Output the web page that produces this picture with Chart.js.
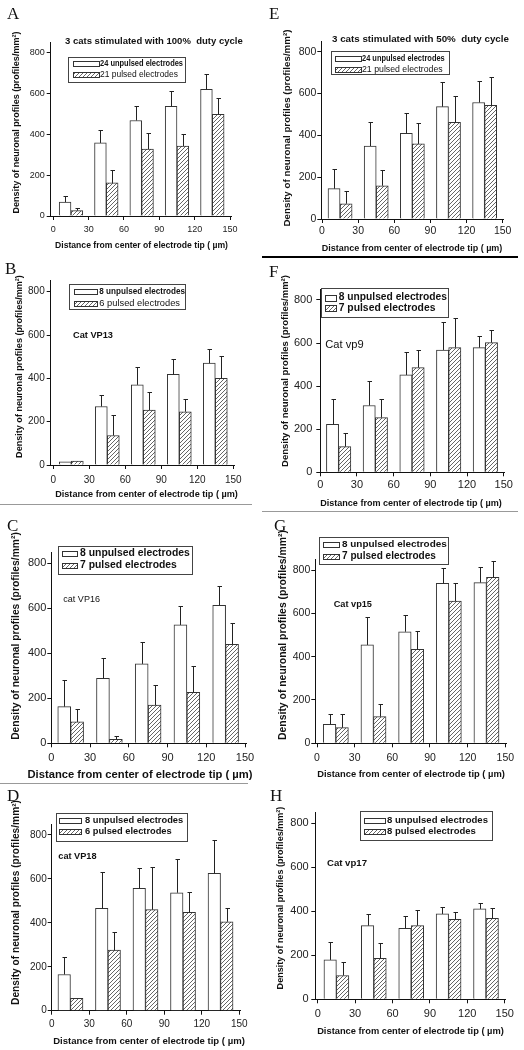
<!DOCTYPE html>
<html><head><meta charset="utf-8">
<script src="https://cdn.jsdelivr.net/npm/chart.js@4.4.1/dist/chart.umd.min.js"></script>
<style>
html,body{margin:0;padding:0;background:#fff;}
#fig{position:relative;width:524px;height:1050px;overflow:hidden;background:#fff;}
#fig canvas{position:absolute;}
.sep{position:absolute;}
</style></head><body><div id="fig"></div>
<script>
// ---------------- data ----------------
const binCenters = [15, 45, 75, 105, 135];
const xTickValues = [0, 30, 60, 90, 120, 150];
const yTickValues = [0, 200, 400, 600, 800];

const xAxisTitle = 'Distance from center of electrode tip ( µm)';
const yAxisTitle = 'Density of neuronal profiles (profiles/mm²)';

// A
const unpulsedA = [68, 358, 468, 537, 620];
const unpulsedErrA = [30, 62, 72, 73, 78];
const pulsedA = [26, 162, 328, 343, 498];
const pulsedErrA = [12, 62, 78, 60, 82];
const legendA = ['24 unpulsed electrodes', '21 pulsed electrodes'];
const titleA = '3 cats stimulated with 100%  duty cycle';
// E
const unpulsedE = [145, 349, 410, 537, 557];
const unpulsedErrE = [93, 113, 95, 120, 103];
const pulsedE = [73, 159, 359, 462, 543];
const pulsedErrE = [60, 75, 101, 128, 137];
const legendE = ['24 unpulsed electrodes', '21 pulsed electrodes'];
const titleE = '3 cats stimulated with 50%  duty cycle';
// B
const unpulsedB = [15, 270, 370, 418, 470];
const unpulsedErrB = [0, 54, 84, 70, 65];
const pulsedB = [18, 136, 254, 246, 400];
const pulsedErrB = [0, 95, 84, 59, 103];
const legendB = ['8 unpulsed electrodes', '6 pulsed electrodes'];
const catB = 'Cat VP13';
// F
const unpulsedF = [223, 310, 452, 568, 579];
const unpulsedErrF = [117, 116, 108, 132, 54];
const pulsedF = [119, 254, 486, 579, 602];
const pulsedErrF = [62, 85, 82, 136, 59];
const legendF = ['8 unpulsed electrodes', '7 pulsed electrodes'];
const catF = 'Cat vp9';
// C
const unpulsedC = [163, 289, 353, 526, 613];
const unpulsedErrC = [118, 89, 96, 86, 88];
const pulsedC = [95, 18, 170, 227, 440];
const pulsedErrC = [56, 15, 89, 117, 96];
const legendC = ['8 unpulsed electrodes', '7 pulsed electrodes'];
const catC = 'cat VP16';
// G
const unpulsedG = [88, 454, 515, 738, 742];
const unpulsedErrG = [46, 128, 76, 70, 70];
const pulsedG = [72, 123, 434, 657, 766];
const pulsedErrG = [63, 57, 83, 81, 76];
const legendG = ['8 unpulsed electrodes', '7 pulsed electrodes'];
const catG = 'Cat vp15';
// D
const unpulsedD = [165, 466, 557, 537, 625];
const unpulsedErrD = [79, 164, 91, 152, 152];
const pulsedD = [56, 276, 460, 448, 405];
const pulsedErrD = [0, 84, 196, 91, 61];
const legendD = ['8 unpulsed electrodes', '6 pulsed electrodes'];
const catD = 'cat VP18';
// H
const unpulsedH = [179, 335, 323, 388, 411];
const unpulsedErrH = [80, 51, 57, 30, 25];
const pulsedH = [108, 186, 335, 364, 368];
const pulsedErrH = [63, 69, 71, 31, 46];
const legendH = ['8 unpulsed electrodes', '8 pulsed electrodes'];
const catH = 'Cat vp17';

// ---------------- layout (page pixel coordinates) ----------------
const Y_MAX = 850, X_MAX = 151, HALF_BAR = 5;
const Y_AXIS_W = 40, X_AXIS_H = 36;
const SANS = "'Liberation Sans', Arial, sans-serif";
const SERIF = "'Liberation Serif', 'Times New Roman', serif";

const layouts = {
  A: {canvas:[0,0,262,255], ax:50.7, x0:53.3, x150:230, y0:216, y800:52.7, tick:9, xPad:4.6, yPad:2,
      letter:[7,19], title:{x:65,y:41.7,w:178},
      legend:{box:[68.3,56.7,116.7,25], swX:73, swW:26, swH:5, rows:[63.3,74], textX:100, widths:[83,78], weights:['bold','normal'], sizes:[9,9.5]},
      yTitle:{cx:17,cy:122.5,w:182}, xTitle:{cx:141.5,cy:246,w:173}},
  E: {canvas:[262,0,262,255], ax:321.3, x0:322, x150:502.7, y0:219, y800:51.7, tick:10.5, xPad:1.5, yPad:1,
      letter:[269,18.5], title:{x:332,y:39.5,w:177},
      legend:{box:[331,50.7,117.7,23.3], swX:334.7, swW:25.6, swH:5, rows:[58.3,69.3], textX:362, widths:[82.7,80.7], weights:['bold','normal'], sizes:[8.7,9.5]},
      yTitle:{cx:287,cy:128,w:197}, xTitle:{cx:412,cy:249,w:181}},
  B: {canvas:[0,255,262,250], ax:50.7, x0:53.3, x150:233.3, y0:465, y800:291.7, tick:10, xPad:5, yPad:2,
      letter:[5,274], cat:{x:73,y:335,w:40,weight:'bold'},
      legend:{box:[69.3,284.3,116.4,24.7], swX:74, swW:23, swH:5, rows:[291.7,303.3], textX:99.3, widths:[85.7,80.7], weights:['bold','normal'], sizes:[9.5,9.8]},
      yTitle:{cx:19,cy:366.5,w:183}, xTitle:{cx:146.5,cy:494.3,w:183}},
  F: {canvas:[262,258,262,252], ax:320.3, x0:320.3, x150:503.7, y0:472.3, y800:300, tick:11, xPad:2.1, yPad:4,
      letter:[269,276.5], cat:{x:325.3,y:345,w:38.4,weight:'normal'},
      legend:{box:[321,287.7,126.7,29], swX:325.3, swW:10.7, swH:5.5, rows:[297.3,307.7], textX:338.7, widths:[108.3,96.7], weights:['bold','bold']},
      yTitle:{cx:285.3,cy:371,w:192}, xTitle:{cx:411,cy:503.3,w:182}},
  C: {canvas:[0,506,262,276], ax:51.3, x0:51.3, x150:245, y0:743.3, y800:563.3, tick:11, xPad:4.4, yPad:1,
      letter:[7,531], cat:{x:63.3,y:599.3,w:36.7,weight:'normal'},
      legend:{box:[58.3,546,134.4,28], swX:62.3, swW:15.4, swH:5, rows:[553.3,565], textX:80, widths:[110,97], weights:['bold','bold']},
      yTitle:{cx:16,cy:636,w:208}, xTitle:{cx:140,cy:775,w:225}},
  G: {canvas:[262,512,262,271], ax:315.3, x0:317, x150:505.3, y0:743.3, y800:570, tick:10.5, xPad:4.7, yPad:1,
      letter:[274,531], cat:{x:333.7,y:604.3,w:38.3,weight:'bold'},
      legend:{box:[319.3,536.7,129.4,27.3], swX:323, swW:16.3, swH:5, rows:[544.3,556], textX:342, widths:[105,94], weights:['bold','bold']},
      yTitle:{cx:282.7,cy:635,w:210}, xTitle:{cx:411,cy:774.3,w:188}},
  D: {canvas:[0,785,262,265], ax:51.7, x0:51.7, x150:239.3, y0:1010.7, y800:835, tick:10, xPad:3.6, yPad:1,
      letter:[7,800.5], cat:{x:58.3,y:856.7,w:38.3,weight:'bold'},
      legend:{box:[56,813.3,130.7,27.7], swX:59.3, swW:21.7, swH:5, rows:[820.7,831.7], textX:85, widths:[98.3,86.7], weights:['bold','bold']},
      yTitle:{cx:16.7,cy:902.5,w:205}, xTitle:{cx:149,cy:1041,w:192}},
  H: {canvas:[262,785,262,265], ax:315.3, x0:317.7, x150:504.7, y0:999.3, y800:823.3, tick:11, xPad:4.4, yPad:2.6,
      letter:[270,800.5], cat:{x:327,y:863.3,w:40,weight:'bold'},
      legend:{box:[360.3,811,131.7,29], swX:363.7, swW:21, swH:5, rows:[820,831.7], textX:387, widths:[101,89], weights:['bold','bold']},
      yTitle:{cx:280.3,cy:898,w:183}, xTitle:{cx:410.5,cy:1031,w:187}}
};

const panels = [
  {id:'A', unpulsed:unpulsedA, unpulsedErr:unpulsedErrA, pulsed:pulsedA, pulsedErr:pulsedErrA, legend:legendA, title:titleA},
  {id:'E', unpulsed:unpulsedE, unpulsedErr:unpulsedErrE, pulsed:pulsedE, pulsedErr:pulsedErrE, legend:legendE, title:titleE},
  {id:'B', unpulsed:unpulsedB, unpulsedErr:unpulsedErrB, pulsed:pulsedB, pulsedErr:pulsedErrB, legend:legendB, cat:catB},
  {id:'F', unpulsed:unpulsedF, unpulsedErr:unpulsedErrF, pulsed:pulsedF, pulsedErr:pulsedErrF, legend:legendF, cat:catF},
  {id:'C', unpulsed:unpulsedC, unpulsedErr:unpulsedErrC, pulsed:pulsedC, pulsedErr:pulsedErrC, legend:legendC, cat:catC},
  {id:'G', unpulsed:unpulsedG, unpulsedErr:unpulsedErrG, pulsed:pulsedG, pulsedErr:pulsedErrG, legend:legendG, cat:catG},
  {id:'D', unpulsed:unpulsedD, unpulsedErr:unpulsedErrD, pulsed:pulsedD, pulsedErr:pulsedErrD, legend:legendD, cat:catD},
  {id:'H', unpulsed:unpulsedH, unpulsedErr:unpulsedErrH, pulsed:pulsedH, pulsedErr:pulsedErrH, legend:legendH, cat:catH}
];

const separators = [
  {left:262, top:256, width:256, height:2, color:'#000'},
  {left:262, top:510.5, width:256, height:1.3, color:'#999'},
  {left:0, top:504, width:252, height:1.3, color:'#999'},
  {left:0, top:782.7, width:248, height:1.3, color:'#999'}
];

// ---------------- drawing ----------------
const fig = document.getElementById('fig');

function makeHatch() {
  const pc = document.createElement('canvas');
  pc.width = 4; pc.height = 4;
  const g = pc.getContext('2d');
  g.fillStyle = '#fff'; g.fillRect(0, 0, 4, 4);
  g.strokeStyle = '#555'; g.lineWidth = 0.9;
  g.beginPath();
  g.moveTo(0, 4); g.lineTo(4, 0);
  g.moveTo(-1, 1); g.lineTo(1, -1);
  g.moveTo(3, 5); g.lineTo(5, 3);
  g.stroke();
  return g.createPattern(pc, 'repeat');
}
const hatch = makeHatch();

// draws text so that it spans width w; with a given size the text is condensed horizontally
function fitText(ctx, text, x, y, w, weight, align, family, size) {
  ctx.font = weight + ' 10px ' + family;
  const m10 = ctx.measureText(text).width;
  ctx.textAlign = align;
  ctx.textBaseline = 'middle';
  if (!size) {
    const s = 10 * w / m10;
    ctx.font = weight + ' ' + s.toFixed(2) + 'px ' + family;
    ctx.fillText(text, x, y);
    return;
  }
  ctx.font = weight + ' ' + size + 'px ' + family;
  const m = ctx.measureText(text).width;
  ctx.save();
  ctx.translate(x, y);
  ctx.scale(w / m, 1);
  ctx.fillText(text, 0, 0);
  ctx.restore();
}

function decorPlugin(p, L) {
  const cl = L.canvas[0], ct = L.canvas[1];
  const X = v => v - cl, Y = v => v - ct;
  return {
    id: 'decor' + p.id,
    afterDatasetsDraw(chart) {
      const ctx = chart.ctx, xs = chart.scales.x, ys = chart.scales.y;
      ctx.save();
      ctx.strokeStyle = '#222'; ctx.lineWidth = 1;
      const series = [[p.unpulsed, p.unpulsedErr], [p.pulsed, p.pulsedErr]];
      series.forEach(([vals, errs], di) => {
        const ds = chart.data.datasets[di];
        vals.forEach((v, i) => {
          const e = errs[i];
          if (!e) return;
          const px = Math.round(xs.getPixelForValue(ds.data[i].x)) + 0.5;
          const pb = ys.getPixelForValue(v);
          const pt = Math.round(ys.getPixelForValue(v + e)) + 0.5;
          ctx.beginPath();
          ctx.moveTo(px, pb); ctx.lineTo(px, pt);
          ctx.moveTo(px - 2, pt); ctx.lineTo(px + 2.5, pt);
          ctx.stroke();
        });
      });
      ctx.restore();
    },
    afterDraw(chart) {
      const ctx = chart.ctx;
      ctx.save();
      ctx.fillStyle = '#111';
      // panel letter
      ctx.font = '17px ' + SERIF;
      ctx.textAlign = 'left'; ctx.textBaseline = 'alphabetic';
      ctx.fillText(p.id, X(L.letter[0]), Y(L.letter[1]));
      // title
      if (p.title) fitText(ctx, p.title, X(L.title.x), Y(L.title.y), L.title.w, 'bold', 'left', SANS);
      // cat label
      if (p.cat) fitText(ctx, p.cat, X(L.cat.x), Y(L.cat.y), L.cat.w, L.cat.weight, 'left', SANS);
      // legend
      const lg = L.legend;
      ctx.strokeStyle = '#444'; ctx.lineWidth = 1;
      ctx.strokeRect(Math.round(X(lg.box[0])) + 0.5, Math.round(Y(lg.box[1])) + 0.5, Math.round(lg.box[2]), Math.round(lg.box[3]));
      for (let r = 0; r < 2; r++) {
        const sx = Math.round(X(lg.swX)) + 0.5;
        const sy = Math.round(Y(lg.rows[r]) - lg.swH / 2) + 0.5;
        ctx.fillStyle = r === 0 ? '#fff' : hatch;
        ctx.fillRect(sx, sy, Math.round(lg.swW), Math.round(lg.swH));
        ctx.strokeStyle = '#333';
        ctx.strokeRect(sx, sy, Math.round(lg.swW), Math.round(lg.swH));
        ctx.fillStyle = '#111';
        fitText(ctx, chart.data.datasets[r].label, X(lg.textX), Y(lg.rows[r]), lg.widths[r], lg.weights[r], 'left', SANS,
                lg.sizes ? lg.sizes[r] : undefined);
      }
      // axis titles
      fitText(ctx, xAxisTitle, X(L.xTitle.cx), Y(L.xTitle.cy), L.xTitle.w, 'bold', 'center', SANS);
      ctx.save();
      ctx.translate(X(L.yTitle.cx), Y(L.yTitle.cy));
      ctx.rotate(-Math.PI / 2);
      fitText(ctx, yAxisTitle, 0, 0, L.yTitle.w, 'bold', 'center', SANS);
      ctx.restore();
      ctx.restore();
    }
  };
}

function buildChart(p) {
  const L = layouts[p.id];
  const [cl, ct, cw, ch] = L.canvas;
  const cv = document.createElement('canvas');
  cv.width = cw; cv.height = ch;
  cv.style.left = cl + 'px'; cv.style.top = ct + 'px';
  cv.style.width = cw + 'px'; cv.style.height = ch + 'px';
  fig.appendChild(cv);

  const pxPerX = (L.x150 - L.x0) / 150;
  const xMin = -(L.x0 - L.ax) / pxPerX;
  const chartRight = L.x0 + X_MAX * pxPerX;
  const pxPerY = (L.y0 - L.y800) / 800;
  const chartTop = L.y0 - Y_MAX * pxPerY;
  const padding = {
    left: L.ax - cl - Y_AXIS_W,
    top: chartTop - ct,
    right: cl + cw - chartRight,
    bottom: ct + ch - L.y0 - X_AXIS_H
  };

  const tickFont = {family: SANS, size: L.tick};
  const mkGrid = () => ({display: true, drawOnChartArea: false, drawTicks: true, tickLength: 4, color: '#111', tickColor: '#111', lineWidth: 1, offset: false});
  const mkBorder = () => ({display: true, color: '#111', width: 1});

  new Chart(cv, {
    type: 'bar',
    data: {
      datasets: [
        {label: p.legend[0], data: binCenters.map((c, i) => ({x: c - HALF_BAR, y: p.unpulsed[i]})),
         backgroundColor: '#fff', borderColor: '#333', borderWidth: 1, grouped: false, barPercentage: 1, categoryPercentage: 1},
        {label: p.legend[1], data: binCenters.map((c, i) => ({x: c + HALF_BAR, y: p.pulsed[i]})),
         backgroundColor: hatch, borderColor: '#333', borderWidth: 1, grouped: false, barPercentage: 1, categoryPercentage: 1}
      ]
    },
    options: {
      responsive: false, animation: false, devicePixelRatio: 1,
      layout: {padding},
      plugins: {legend: {display: false}, tooltip: {enabled: false}, title: {display: false}},
      scales: {
        x: {
          type: 'linear', min: xMin, max: X_MAX, z: 1, offset: false,
          afterFit: s => { s.height = X_AXIS_H; },
          afterBuildTicks: s => { s.ticks = xTickValues.map(v => ({value: v})); },
          grid: mkGrid(), border: mkBorder(),
          ticks: {font: tickFont, color: '#222', padding: L.xPad, maxRotation: 0, autoSkip: false},
          title: {display: false}
        },
        y: {
          type: 'linear', min: 0, max: Y_MAX, offset: false,
          afterFit: s => { s.width = Y_AXIS_W; },
          afterBuildTicks: s => { s.ticks = yTickValues.map(v => ({value: v})); },
          grid: mkGrid(), border: mkBorder(),
          ticks: {font: tickFont, color: '#222', padding: L.yPad, autoSkip: false},
          title: {display: false}
        }
      }
    },
    plugins: [decorPlugin(p, L)]
  });
}

panels.forEach(buildChart);

separators.forEach(s => {
  const d = document.createElement('div');
  d.className = 'sep';
  d.style.left = s.left + 'px'; d.style.top = s.top + 'px';
  d.style.width = s.width + 'px'; d.style.height = s.height + 'px';
  d.style.background = s.color;
  fig.appendChild(d);
});
</script>
</body></html>
